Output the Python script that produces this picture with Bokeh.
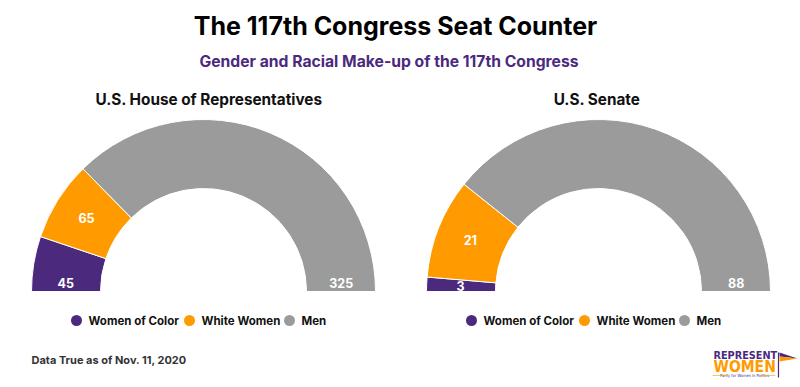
import math
from bokeh.plotting import figure
from bokeh.models import Range1d
from bokeh.core.properties import value
from bokeh.embed import file_html
from bokeh.resources import INLINE

# ---- data ----
categories = ["Women of Color", "White Women", "Men"]
house_values = [45, 65, 325]
senate_values = [3, 21, 88]
chart_titles = ["U.S. House of Representatives", "U.S. Senate"]
colors = ["#4B2A7D", "#FF9B00", "#9B9B9B"]

title_text = "The 117th Congress Seat Counter"
subtitle_text = "Gender and Racial Make-up of the 117th Congress"
footer_text = "Data True as of Nov. 11, 2020"

W, H = 800, 387
FONT = "Inter"
NARROW = "'DejaVu Sans Condensed', 'Liberation Sans Narrow', 'Roboto Condensed', sans-serif"

p = figure(width=W, height=H, output_backend="svg", toolbar_location=None,
           x_range=Range1d(0, W), y_range=Range1d(0, H), min_border=0)
p.axis.visible = False
p.grid.visible = False
p.outline_line_color = None
p.background_fill_color = "white"


def Y(py):
    return H - py


OUTER, INNER = 172, 103
LABEL_R = 138


def gauge(cx, base_py, vals, title, title_x):
    total = sum(vals)
    cy = Y(base_py)
    cum = 0
    starts, ends, lx, ly, txt = [], [], [], [], []
    n = len(vals)
    for i, v in enumerate(vals):
        a_end = math.pi * (1 - cum / total)
        cum += v
        a_start = math.pi * (1 - cum / total)
        starts.append(a_start)
        ends.append(a_end)
        span = a_end - a_start
        off = min(math.radians(3.5), span / 2)
        if i == 0:
            a = a_end - off
        elif i == n - 1:
            a = a_start + off
        else:
            a = (a_start + a_end) / 2
        lx.append(cx + LABEL_R * math.cos(a))
        ly.append(cy + LABEL_R * math.sin(a))
        txt.append(str(v))
    p.annular_wedge(x=[cx] * n, y=[cy] * n, inner_radius=INNER, outer_radius=OUTER,
                    start_angle=starts, end_angle=ends, fill_color=colors,
                    line_color="white", line_width=1)
    p.text(x=lx, y=ly, text=txt, text_color="white", text_font=value(FONT),
           text_font_style="bold", text_font_size="12.5px", text_align="center",
           text_baseline="middle")
    p.text(x=[title_x], y=[Y(99)], text=[title], text_color="#111111",
           text_font=value(FONT), text_font_style="bold", text_font_size="15.3px",
           text_align="center", text_baseline="middle")
    # legend
    circ_off = [-127, -14, 86]
    p.scatter(x=[cx + o for o in circ_off], y=[Y(320)] * 3, size=11,
              fill_color=colors, line_color=None, marker="circle")
    p.text(x=[cx + o + 12 for o in circ_off], y=[Y(320)] * 3, text=categories,
           text_color="#111111", text_font=value(FONT), text_font_style="bold",
           text_font_size="11.5px", text_align="left", text_baseline="middle")


gauge(203, 291, house_values, chart_titles[0], 208.5)
gauge(598, 291, senate_values, chart_titles[1], 596.5)

p.text(x=[395], y=[Y(25)], text=[title_text], text_color="#000000",
       text_font=value(FONT), text_font_style="bold", text_font_size="25px",
       text_align="center", text_baseline="middle")
p.text(x=[388.5], y=[Y(61)], text=[subtitle_text], text_color="#4B2A7D",
       text_font=value(FONT), text_font_style="bold", text_font_size="15.7px",
       text_align="center", text_baseline="middle")
p.text(x=[31], y=[Y(359)], text=[footer_text], text_color="#333333",
       text_font=value(FONT), text_font_style="bold", text_font_size="11px",
       text_align="left", text_baseline="middle")

# logo
p.text(x=[713], y=[Y(355)], text=["REPRESENT"], text_color="#4B2A7D",
       text_font=value(NARROW), text_font_style="bold",
       text_font_size="10.8px", text_align="left", text_baseline="middle")
p.text(x=[713], y=[Y(366.5)], text=["WOMEN"], text_color="#FF9B00",
       text_font=value(NARROW), text_font_style="bold",
       text_font_size="15.5px", text_align="left", text_baseline="middle")
p.text(x=[744], y=[Y(375)], text=["Parity for Women in Politics"], text_color="#4B2A7D",
       text_font=value(NARROW), text_font_size="4px",
       text_align="center", text_baseline="middle")
p.segment(x0=[712, 760], y0=[Y(375)] * 2, x1=[727, 775], y1=[Y(375)] * 2,
          line_color="#FF9B00", line_width=0.6)
p.segment(x0=[778], y0=[Y(352)], x1=[778], y1=[Y(377)], line_color="#4B2A7D", line_width=1.2)
p.patch(x=[779, 797, 779], y=[Y(352), Y(358), Y(356)], fill_color="#4B2A7D", line_color=None)
p.patch(x=[779, 797, 779], y=[Y(356), Y(358), Y(361)], fill_color="#FF9B00", line_color=None)

open("out.html", "w").write(file_html(p, INLINE))
